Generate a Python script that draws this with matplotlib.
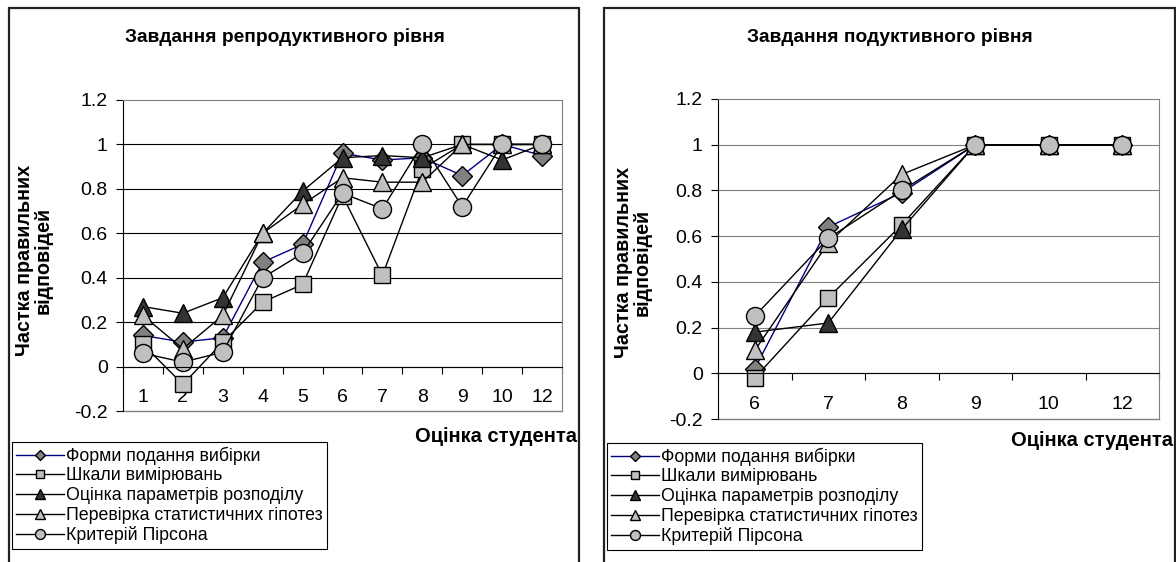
import numpy as np
import matplotlib
matplotlib.use("Agg")
import matplotlib.pyplot as plt
from matplotlib.patches import Rectangle

plt.rcParams['font.family'] = ['Liberation Sans', 'DejaVu Sans']

# data
series_names = ["Форми подання вибірки", "Шкали вимірювань", "Оцінка параметрів розподілу",
                "Перевірка статистичних гіпотез", "Критерій Пірсона"]

grades_left = ["1", "2", "3", "4", "5", "6", "7", "8", "9", "10", "12"]
forms_left = [0.14, 0.11, 0.13, 0.47, 0.55, 0.96, 0.93, 0.94, 0.86, 1.0, 0.95]
scales_left = [0.10, -0.08, 0.11, 0.29, 0.37, 0.77, 0.41, 0.89, 1.0, 1.0, 1.0]
params_left = [0.27, 0.24, 0.31, 0.60, 0.79, 0.94, 0.95, 0.94, 1.0, 0.93, 1.0]
hypot_left = [0.23, 0.08, 0.23, 0.60, 0.73, 0.85, 0.83, 0.83, 1.0, 1.0, 1.0]
pearson_left = [0.06, 0.02, 0.065, 0.40, 0.51, 0.78, 0.71, 1.0, 0.72, 1.0, 1.0]

grades_right = ["6", "7", "8", "9", "10", "12"]
forms_right = [0.02, 0.64, 0.79, 1.0, 1.0, 1.0]
scales_right = [-0.02, 0.33, 0.65, 1.0, 1.0, 1.0]
params_right = [0.18, 0.22, 0.63, 1.0, 1.0, 1.0]
hypot_right = [0.10, 0.57, 0.87, 1.0, 1.0, 1.0]
pearson_right = [0.25, 0.59, 0.80, 1.0, 1.0, 1.0]

styles = [
    dict(color='#000080', marker='D', mfc='#808080', ms=10),
    dict(color='black', marker='s', mfc='#C0C0C0', ms=11.5),
    dict(color='black', marker='^', mfc='#333333', ms=13.5),
    dict(color='black', marker='^', mfc='#C0C0C0', ms=13.5),
    dict(color='black', marker='o', mfc='#C0C0C0', ms=13),
]

W, H = 1176, 562
fig = plt.figure(figsize=(W / 100, H / 100), dpi=100)


def px_axes(x0, y0, x1, y1):
    return fig.add_axes([x0 / W, 1 - y1 / H, (x1 - x0) / W, (y1 - y0) / H])


def draw_panel(ax, grades, data, grid_color, xpad):
    x = np.arange(len(grades))
    lines = []
    for vals, st, name in zip(data, styles, series_names):
        ln, = ax.plot(x, vals, lw=1, mec='black', mew=1, label=name, **st)
        lines.append(ln)
    ax.set_xlim(-0.5, len(grades) - 0.5)
    ax.set_ylim(-0.2, 1.2)
    yt = np.round(np.arange(-0.2, 1.21, 0.2), 1)
    ax.set_yticks(yt)
    ax.set_yticklabels([f"{v:g}" for v in yt], fontsize=14)
    ax.tick_params(axis='y', direction='out', length=5, width=0.8, pad=6)
    for v in yt[1:-1]:
        ax.axhline(v, color=grid_color, lw=0.8, zorder=0)
    ax.spines['bottom'].set_position(('data', 0))
    ax.spines['bottom'].set_color('black')
    ax.spines['bottom'].set_linewidth(0.8)
    ax.spines['left'].set_color('black')
    ax.spines['left'].set_linewidth(0.8)
    ax.spines['top'].set_color('#808080')
    ax.spines['right'].set_color('#808080')
    ax.set_xticks(x)
    ax.set_xticklabels(grades, fontsize=14)
    ax.set_xticks(np.arange(len(grades) + 1) - 0.5, minor=True)
    ax.tick_params(axis='x', which='major', length=0, pad=xpad)
    ax.tick_params(axis='x', which='minor', direction='out', length=5, width=0.8)
    # bottom border of plot area
    ax.plot([0, 1], [0, 0], transform=ax.transAxes, color='#808080', lw=1, clip_on=False)
    return lines


axL = px_axes(123, 100, 562, 411)
linesL = draw_panel(axL, grades_left,
                    [forms_left, scales_left, params_left, hypot_left, pearson_left], 'black', 16)
axR = px_axes(718, 99, 1159, 419)
linesR = draw_panel(axR, grades_right,
                    [forms_right, scales_right, params_right, hypot_right, pearson_right], '#808080', 16)

# panel frames
for x0, x1 in [(9, 579), (604, 1175)]:
    fig.add_artist(Rectangle((x0 / W, -0.05), (x1 - x0) / W, 1.05 - 8 / H,
                             transform=fig.transFigure, fill=False, ec='#222222', lw=1.6))

# titles and axis labels
fig.text(285 / W, 1 - 37 / H, "Завдання репродуктивного рівня", ha='center', va='center',
         fontsize=13.8, fontweight='bold')
fig.text(890 / W, 1 - 37 / H, "Завдання подуктивного рівня", ha='center', va='center',
         fontsize=13.8, fontweight='bold')
for xc, yc in [(34, 260), (633, 262)]:
    fig.text(xc / W, 1 - yc / H, "Частка правильних\nвідповідей", rotation=90, ha='center',
             va='center', fontsize=14.2, fontweight='bold', linespacing=1.0, multialignment='center')
fig.text(577 / W, 1 - 437 / H, "Оцінка студента", ha='right', va='center', fontsize=14.5, fontweight='bold')
fig.text(1173 / W, 1 - 440 / H, "Оцінка студента", ha='right', va='center', fontsize=14.5, fontweight='bold')

# legends
for ax, lines, (lx, ly) in [(axL, linesL, (12, 442)), (axR, linesR, (607, 443))]:
    leg = ax.legend(handles=lines, loc='upper left', bbox_to_anchor=(lx / W, 1 - ly / H),
                    bbox_transform=fig.transFigure, borderaxespad=0, fontsize=12.8,
                    markerscale=0.55, handlelength=2.7, handletextpad=0.1, labelspacing=0.15,
                    fancybox=False, framealpha=1, edgecolor='black', borderpad=0.25)
    leg.get_frame().set_linewidth(0.8)

fig.savefig("out.png", dpi=100)
